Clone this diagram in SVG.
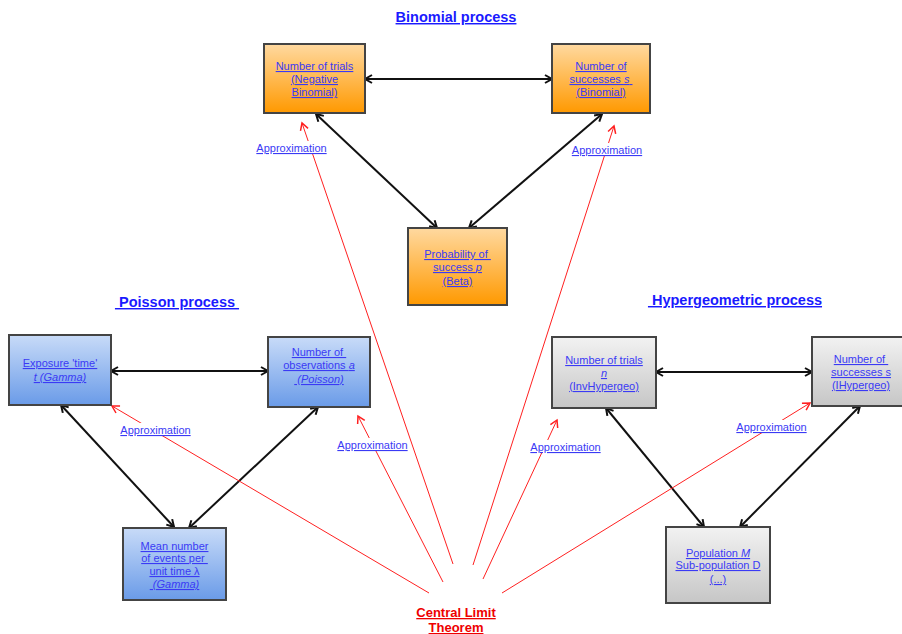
<svg xmlns="http://www.w3.org/2000/svg" width="902" height="634" viewBox="0 0 902 634">
<style>
.t{font-family:"Liberation Sans",Arial,sans-serif;font-size:11px;fill:#3a3af5;text-decoration:underline;text-anchor:middle}
.i{font-style:italic}
.ttl{font-family:"Liberation Sans",Arial,sans-serif;font-size:14.5px;font-weight:bold;fill:#1a1aff;text-decoration:underline;text-anchor:middle}
.clt{font-family:"Liberation Sans",Arial,sans-serif;font-size:13px;font-weight:bold;fill:#ee0000;text-decoration:underline;text-anchor:middle}
.box{stroke:#444;stroke-width:2}
.blk{stroke:#111;stroke-width:2;fill:none;marker-start:url(#ab);marker-end:url(#ab)}
.red{stroke:#ff2020;stroke-width:1;fill:none;marker-end:url(#ar)}
.lb{fill:#fff}
</style>
<defs>
<linearGradient id="go" x1="0" y1="0" x2="0" y2="1"><stop offset="0" stop-color="#ffd9a0"/><stop offset="1" stop-color="#ff9900"/></linearGradient>
<linearGradient id="gb" x1="0" y1="0" x2="0" y2="1"><stop offset="0" stop-color="#c8dbf8"/><stop offset="1" stop-color="#6a9be8"/></linearGradient>
<linearGradient id="gg" x1="0" y1="0" x2="0" y2="1"><stop offset="0" stop-color="#f2f2f2"/><stop offset="1" stop-color="#c6c6c6"/></linearGradient>
<marker id="ab" markerUnits="userSpaceOnUse" markerWidth="12" markerHeight="12" refX="9" refY="5" orient="auto-start-reverse"><path d="M2,1 L9,5 L2,9" fill="none" stroke="#111" stroke-width="2"/></marker>
<marker id="ar" markerUnits="userSpaceOnUse" markerWidth="12" markerHeight="12" refX="9" refY="5" orient="auto"><path d="M2,1 L9,5 L2,9" fill="none" stroke="#ff2020" stroke-width="1.5"/></marker>
</defs>
<g id="titles">
<text class="ttl" x="456" y="22">Binomial process</text>
<text class="ttl" x="177" y="307" xml:space="preserve"> Poisson process </text>
<text class="ttl" x="735" y="305" xml:space="preserve"> Hypergeometric process</text>
</g>
<g id="connectors">
<line class="blk" x1="365" y1="79" x2="552" y2="79"/>
<line class="blk" x1="316" y1="114" x2="437" y2="228"/>
<line class="blk" x1="602" y1="114" x2="469" y2="228"/>
<line class="blk" x1="111" y1="371" x2="268" y2="371"/>
<line class="blk" x1="61" y1="405" x2="174" y2="527"/>
<line class="blk" x1="318" y1="407" x2="189" y2="528"/>
<line class="blk" x1="656" y1="372" x2="812" y2="372"/>
<line class="blk" x1="606" y1="408" x2="704" y2="527"/>
<line class="blk" x1="860" y1="406" x2="740" y2="527"/>
<line class="red" x1="453" y1="564" x2="302" y2="123"/>
<line class="red" x1="473" y1="565" x2="614" y2="126"/>
<line class="red" x1="443" y1="582" x2="358" y2="416"/>
<line class="red" x1="429" y1="593" x2="112" y2="406"/>
<line class="red" x1="483" y1="579" x2="557" y2="420"/>
<line class="red" x1="502" y1="593" x2="810" y2="403"/>
</g>
<g id="labels">
<rect class="lb" x="255" y="141" width="73" height="13"/><text class="t" x="291.5" y="152">Approximation</text>
<rect class="lb" x="571" y="143" width="73" height="13"/><text class="t" x="607" y="154">Approximation</text>
<rect class="lb" x="119" y="423" width="73" height="13"/><text class="t" x="155.5" y="434">Approximation</text>
<rect class="lb" x="336" y="438" width="73" height="13"/><text class="t" x="372.5" y="449">Approximation</text>
<rect class="lb" x="529" y="440" width="73" height="13"/><text class="t" x="565.5" y="451">Approximation</text>
<rect class="lb" x="735" y="420" width="73" height="13"/><text class="t" x="771.5" y="431">Approximation</text>
</g>
<g id="n-negbin">
<rect class="box" x="264" y="44" width="101" height="69" fill="url(#go)"/>
<text class="t" x="314.5" y="70">Number of trials</text>
<text class="t" x="314.5" y="83">(Negative</text>
<text class="t" x="314.5" y="96">Binomial)</text>
</g>
<g id="n-binom">
<rect class="box" x="552" y="44" width="98" height="69" fill="url(#go)"/>
<text class="t" x="601" y="70">Number of</text>
<text class="t" x="601" y="83" xml:space="preserve">successes <tspan class="i">s</tspan> </text>
<text class="t" x="601" y="96">(Binomial)</text>
</g>
<g id="n-beta">
<rect class="box" x="408" y="228" width="99" height="77" fill="url(#go)"/>
<text class="t" x="457.5" y="258" xml:space="preserve">Probability of </text>
<text class="t" x="457.5" y="271" xml:space="preserve">success <tspan class="i">p</tspan></text>
<text class="t" x="457.5" y="285">(Beta)</text>
</g>
<g id="n-exposure">
<rect class="box" x="9" y="335" width="102" height="70" fill="url(#gb)"/>
<text class="t" x="60" y="367">Exposure 'time'</text>
<text class="t i" x="60" y="381">t (Gamma)</text>
</g>
<g id="n-poisson">
<rect class="box" x="268" y="337" width="102" height="70" fill="url(#gb)"/>
<text class="t" x="319" y="356" xml:space="preserve">Number of </text>
<text class="t" x="319" y="369">observations <tspan class="i">a</tspan></text>
<text class="t i" x="319" y="383" xml:space="preserve"> (Poisson)</text>
</g>
<g id="n-mean">
<rect class="box" x="123" y="528" width="103" height="72" fill="url(#gb)"/>
<text class="t" x="174.5" y="550">Mean number</text>
<text class="t" x="174.5" y="562" xml:space="preserve">of events per </text>
<text class="t" x="174.5" y="575">unit time λ</text>
<text class="t i" x="174.5" y="588" xml:space="preserve"> (Gamma)</text>
</g>
<g id="n-invhyper">
<rect class="box" x="552" y="337" width="104" height="71" fill="url(#gg)"/>
<text class="t" x="604" y="364">Number of trials</text>
<text class="t i" x="604" y="377">n</text>
<text class="t" x="604" y="390">(InvHypergeo)</text>
</g>
<g id="n-ihyper">
<rect class="box" x="812" y="337" width="100" height="69" fill="url(#gg)"/>
<text class="t" x="861" y="363" xml:space="preserve">Number of </text>
<text class="t" x="861" y="376">successes s</text>
<text class="t" x="861" y="389">(IHypergeo)</text>
</g>
<g id="n-population">
<rect class="box" x="666" y="527" width="104" height="76" fill="url(#gg)"/>
<text class="t" x="718" y="557">Population <tspan class="i">M</tspan></text>
<text class="t" x="718" y="569">Sub-population D</text>
<text class="t" x="718" y="583">(...)</text>
</g>
<g id="n-clt">
<text class="clt" x="456" y="617">Central Limit</text>
<text class="clt" x="456" y="632">Theorem</text>
</g>
</svg>
